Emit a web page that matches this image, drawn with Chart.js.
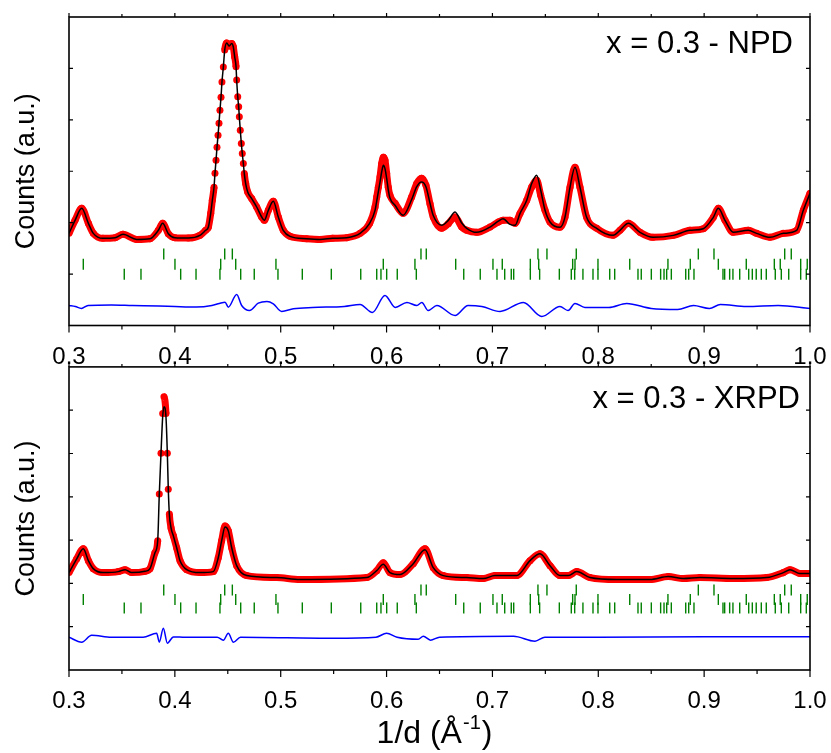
<!DOCTYPE html>
<html>
<head>
  <meta charset="utf-8">
  <title>x = 0.3 - NPD / XRPD</title>
  <script src="https://cdn.jsdelivr.net/npm/chart.js"></script>
  <style>
    body { margin: 0; background: #fff; }
    #wrap { position: relative; width: 831px; height: 753px; }
    canvas { position: absolute; left: 0; }
  </style>
</head>
<body>
<div id="wrap">
  <canvas id="xrpdChart" width="831" height="393" style="top:360px"></canvas>
  <canvas id="npdChart" width="831" height="380" style="top:0"></canvas>
</div>

<script>
  // posiciones de Bragg (1/d) de las tres fases, iguales en los dos paneles
  const fase1 = [0.3895, 0.4471, 0.4543, 0.6325, 0.6375, 0.7430, 0.7515, 0.7792, 0.8945, 0.9093, 0.9761, 0.9823];
  const fase2 = [0.3135, 0.4001, 0.4433, 0.4575, 0.4955, 0.5969, 0.6268, 0.6653, 0.7005, 0.7093, 0.7358, 0.7437,
    0.7758, 0.7780, 0.7997, 0.8297, 0.8658, 0.8869, 0.9134, 0.9398, 0.9663, 0.9719, 0.9912, 0.9974];
  const fase3 = [0.3522, 0.3680, 0.4055, 0.4200, 0.4426, 0.4622, 0.4750, 0.4974, 0.5204, 0.5478, 0.5756, 0.5907,
    0.5947, 0.6001, 0.6101, 0.6281, 0.6729, 0.6885, 0.7043, 0.7116, 0.7178, 0.7201, 0.7358, 0.7446, 0.7632, 0.7745,
    0.7777, 0.7855, 0.7950, 0.7997, 0.8108, 0.8155, 0.8375, 0.8406, 0.8501, 0.8589, 0.8621, 0.8646, 0.8690, 0.8826,
    0.8854, 0.8904, 0.9178, 0.9194, 0.9241, 0.9272, 0.9336, 0.9421, 0.9455, 0.9492, 0.9540, 0.9587, 0.9672, 0.9729,
    0.9799, 0.9912, 0.9965];

  // NPD: observado y calculado
  const npdX = [0.300, 0.3057, 0.312, 0.3183, 0.323, 0.332, 0.3435, 0.351, 0.364, 0.3765, 0.3844, 0.3885, 0.3938,
    0.4001, 0.4127, 0.4237, 0.4291, 0.4316, 0.4339, 0.4354, 0.4370, 0.4379, 0.4389, 0.4398, 0.4408, 0.4417, 0.4426,
    0.4436, 0.4445, 0.4458, 0.4471, 0.4490, 0.4514, 0.4537, 0.4552, 0.4565, 0.4578, 0.4584, 0.4594, 0.4603, 0.4609,
    0.4618, 0.4628, 0.4637, 0.4647, 0.4656, 0.4669, 0.4688, 0.4726, 0.4773, 0.482, 0.4845, 0.4883, 0.493, 0.4977,
    0.5024, 0.5088, 0.5245, 0.537, 0.549, 0.5623, 0.575, 0.584, 0.5891, 0.5907, 0.5922, 0.5938, 0.5954, 0.597,
    0.5985, 0.6001, 0.6016, 0.6032, 0.608, 0.6157, 0.6237, 0.6285, 0.633, 0.6372, 0.641, 0.6441, 0.652, 0.6583,
    0.6647, 0.671, 0.6757, 0.685, 0.6977, 0.7056, 0.710, 0.7166, 0.7213, 0.726, 0.7324, 0.7371, 0.7418, 0.7456,
    0.7497, 0.7544, 0.7638, 0.7685, 0.7733, 0.778, 0.7827, 0.789, 0.7985, 0.814, 0.8205, 0.8284, 0.8394, 0.8517,
    0.8709, 0.8866, 0.8992, 0.9087, 0.9134, 0.9197, 0.9275, 0.9417, 0.9496, 0.9622, 0.9748, 0.9874, 0.9937, 1.0];
  const npdObs = [1792, 2045, 2279, 1987, 1792, 1695, 1708, 1773, 1675, 1688, 1851, 1987, 1786,
    1708, 1701, 1753, 1851, 1909, 2182, 2435, 2688, 2961, 3214, 3467, 3701, 3935, 4188,
    4441, 4734, 5026, 5357, 5494, 5435, 5487, 5422, 5227, 5032, 4773, 4448, 4253, 4058,
    3799, 3539, 3345, 3150, 2955, 2760, 2597, 2468, 2305, 2110, 2045, 2240, 2415, 2110,
    1851, 1734, 1688, 1675, 1695, 1708, 1792, 1987, 2305, 2500, 2688, 2889, 3150, 3273,
    3214, 2955, 2688, 2532, 2377, 2182, 2500, 2760, 2864, 2727, 2370, 2110, 1890, 1981,
    2110, 1915, 1851, 1812, 1915, 2012, 2045, 2045, 1987, 2176, 2435, 2694, 2825, 2532,
    2240, 2012, 1909, 2104, 2688, 3078, 2688, 2104, 1890, 1753, 1851, 1987, 1812, 1714,
    1753, 1851, 1883, 2104, 2279, 2045, 1812, 1851, 1792, 1714, 1792, 1851, 2240, 2571];
  const npdCalc = [1792, 2045, 2279, 1987, 1792, 1695, 1708, 1773, 1675, 1688, 1851, 1987, 1786,
    1708, 1701, 1753, 1851, 1909, 2182, 2435, 2688, 2961, 3214, 3467, 3701, 3935, 4188,
    4441, 4734, 5026, 5357, 5494, 5435, 5487, 5422, 5227, 5032, 4773, 4448, 4253, 4058,
    3799, 3539, 3345, 3150, 2955, 2760, 2597, 2468, 2305, 2110, 2045, 2240, 2415, 2110,
    1851, 1734, 1688, 1675, 1695, 1708, 1792, 1987, 2240, 2420, 2600, 2790, 2990, 3117,
    3050, 2860, 2640, 2480, 2338, 2143, 2450, 2700, 2792, 2700, 2380, 2140, 1950, 2045,
    2207, 1993, 1890, 1812, 1915, 2030, 2078, 1967, 1948, 2176, 2435, 2760, 2922, 2630,
    2240, 2012, 1909, 2104, 2688, 3078, 2688, 2104, 1890, 1753, 1851, 1987, 1812, 1714,
    1753, 1851, 1883, 2104, 2279, 2045, 1812, 1851, 1792, 1714, 1792, 1851, 2240, 2571];
  const npdDifX = [0.300, 0.306, 0.3117, 0.318, 0.34, 0.36, 0.385, 0.40, 0.42, 0.435, 0.442, 0.4474, 0.4505, 0.4584,
    0.4631, 0.4705, 0.4788, 0.487, 0.493, 0.5009, 0.5119, 0.53, 0.56, 0.575, 0.5866, 0.5985, 0.6082, 0.6192, 0.6286,
    0.6333, 0.6393, 0.6475, 0.6647, 0.677, 0.69, 0.7072, 0.7293, 0.7466, 0.7638, 0.7714, 0.778, 0.7874, 0.81,
    0.8268, 0.85, 0.875, 0.89, 0.905, 0.9153, 0.94, 0.97, 1.0];
  const npdDif = [390, 370, 331, 390, 400, 390, 380, 370, 360, 390, 429, 454, 357, 604,
    390, 292, 435, 468, 422, 273, 325, 351, 370, 409, 253, 584, 351, 448, 390,
    448, 292, 390, 195, 390, 370, 273, 448, 175, 370, 292, 429, 351, 351,
    429, 331, 312, 390, 331, 409, 370, 390, 331];

  // XRPD: observado y calculado
  const xrpdX = [0.300, 0.3072, 0.3135, 0.3183, 0.3229, 0.3324, 0.3466, 0.353, 0.3592, 0.3718, 0.3765, 0.3812,
    0.3838, 0.3853, 0.3869, 0.3885, 0.3897, 0.3916, 0.3929, 0.3938, 0.3948, 0.3964, 0.3986, 0.4017, 0.4049, 0.4112,
    0.4237, 0.4363, 0.441, 0.4442, 0.4474, 0.4505, 0.4537, 0.4584, 0.4679, 0.4962, 0.5182, 0.5812, 0.5907, 0.5969,
    0.6032, 0.6127, 0.6252, 0.6363, 0.6441, 0.6536, 0.6757, 0.6914, 0.7024, 0.7229, 0.7355, 0.7449, 0.7544, 0.7638,
    0.7717, 0.7796, 0.7922, 0.8174, 0.8489, 0.8661, 0.8803, 0.896, 0.9275, 0.9591, 0.9748, 0.9811, 0.9905, 1.0];
  const xrpdObs = [2249, 2563, 2800, 2525, 2341, 2249, 2272, 2318, 2249, 2279, 2341, 2708,
    2984, 4062, 5003, 5921, 6311, 5921, 5003, 4177, 3603, 3282, 3098, 2823, 2525, 2318,
    2249, 2272, 2593, 2984, 3328, 3213, 2823, 2410, 2180, 2134, 2088, 2134, 2295, 2479,
    2249, 2203, 2456, 2800, 2364, 2180, 2134, 2111, 2180, 2180, 2525, 2685, 2410, 2180,
    2180, 2272, 2134, 2088, 2088, 2157, 2111, 2134, 2111, 2134, 2249, 2318, 2226, 2226];
  const xrpdCalc = [2249, 2563, 2800, 2525, 2341, 2249, 2272, 2318, 2249, 2279, 2341, 2708,
    2984, 4062, 5003, 5850, 6082, 5850, 5003, 4177, 3603, 3282, 3098, 2823, 2525, 2318,
    2249, 2272, 2593, 2984, 3300, 3213, 2823, 2410, 2180, 2134, 2088, 2134, 2295, 2440,
    2249, 2203, 2456, 2780, 2364, 2180, 2134, 2111, 2180, 2180, 2525, 2685, 2410, 2180,
    2180, 2272, 2134, 2088, 2088, 2157, 2111, 2134, 2111, 2134, 2249, 2318, 2226, 2226];
  const xrpdDifX = [0.300, 0.312, 0.3214, 0.34, 0.37, 0.3828, 0.3853, 0.3891, 0.3929, 0.3986, 0.41, 0.44, 0.4458,
    0.4505, 0.4553, 0.462, 0.55, 0.59, 0.6, 0.61, 0.6299, 0.6347, 0.6415, 0.65, 0.72, 0.7402, 0.7496, 0.8, 0.9, 1.0];
  const xrpdDif = [757, 643, 803, 757, 757, 849, 643, 964, 620, 765, 757, 757, 689,
    849, 643, 757, 734, 757, 849, 757, 711, 780, 689, 757, 780, 666, 757, 757, 769, 769];

  const FUENTE = "'Liberation Sans', Arial, Helvetica, sans-serif";

  function puntos(xs, ys) {
    return xs.map((x, i) => ({ x: x, y: ys[i] }));
  }

  // marcas de Bragg: un punto por reflexion a la altura de su fila
  function marcas(xs, nivel) {
    return {
      data: xs.map((x) => ({ x: x, y: nivel })),
      showLine: false,
      pointStyle: 'line',
      pointRotation: 90,
      pointRadius: 5.5,
      pointBorderColor: 'rgb(0,128,0)',
      pointBorderWidth: 1.4,
      order: 4,
    };
  }

  // tramos muy empinados del observado: se dejan solo los puntos
  function empinado(ctx) {
    const dx = Math.abs(ctx.p1.x - ctx.p0.x);
    const dy = Math.abs(ctx.p1.y - ctx.p0.y);
    return dy > 8 && dy > 9 * dx;
  }

  function marcoPlugin(cfg) {
    return {
      id: 'marco',
      afterDatasetsDraw(chart) {
        const { ctx, chartArea: a, scales } = chart;
        const sx = scales.x, sy = scales.y;
        ctx.save();
        ctx.strokeStyle = '#000';
        ctx.lineWidth = 1.6;
        ctx.strokeRect(a.left, a.top, a.right - a.left, a.bottom - a.top);
        ctx.lineWidth = 1.2;
        ctx.beginPath();
        for (let k = 0; k <= 14; k++) {
          const px = sx.getPixelForValue(0.3 + k * 0.05);
          const mayor = k % 2 === 0;
          ctx.moveTo(px, a.bottom);
          ctx.lineTo(px, a.bottom + (mayor ? 7 : 4));
          ctx.moveTo(px, a.top);
          ctx.lineTo(px, a.top - (mayor ? 4 : 3));
        }
        for (let v = 1000; v < sy.max; v += 1000) {
          const py = sy.getPixelForValue(v);
          ctx.moveTo(a.left, py);
          ctx.lineTo(a.left + 4, py);
          ctx.moveTo(a.right, py);
          ctx.lineTo(a.right - 4, py);
        }
        ctx.stroke();

        ctx.fillStyle = '#000';
        ctx.textAlign = 'right';
        ctx.textBaseline = 'alphabetic';
        ctx.font = '31px ' + FUENTE;
        ctx.fillText(cfg.rotulo, a.right - cfg.rotuloDx, a.top + cfg.rotuloDy);

        if (cfg.tituloX) {
          const t1 = '1/d (\u00C5', sup = '-1', t2 = ')';
          ctx.textAlign = 'left';
          ctx.font = '32px ' + FUENTE;
          const w1 = ctx.measureText(t1).width, w2 = ctx.measureText(t2).width;
          ctx.font = '20px ' + FUENTE;
          const ws = ctx.measureText(sup).width;
          const x0 = (a.left + a.right) / 2 - (w1 + ws + w2) / 2 - 6;
          const base = a.bottom + 73;
          ctx.font = '32px ' + FUENTE;
          ctx.fillText(t1, x0, base);
          ctx.font = '20px ' + FUENTE;
          ctx.fillText(sup, x0 + w1 + 1, base - 14);
          ctx.font = '32px ' + FUENTE;
          ctx.fillText(t2, x0 + w1 + ws + 2, base);
        }
        ctx.restore();
      },
    };
  }

  function crearPanel(id, cfg) {
    const ctx = document.getElementById(id).getContext('2d');
    return new Chart(ctx, {
      type: 'line',
      data: {
        datasets: [
          {
            label: 'Calculado',
            data: puntos(cfg.x, cfg.calc),
            borderColor: '#000',
            borderWidth: 1.5,
            pointRadius: 0,
            order: 1,
          },
          {
            label: 'Observado',
            data: puntos(cfg.x, cfg.obs),
            borderColor: '#ff0000',
            borderWidth: 7,
            pointRadius: 3.5,
            pointBackgroundColor: '#ff0000',
            pointBorderWidth: 0,
            segment: {
              borderColor: (c) => (empinado(c) ? 'rgba(255,0,0,0)' : '#ff0000'),
            },
            order: 2,
          },
          {
            label: 'Diferencia',
            data: puntos(cfg.difX, cfg.dif),
            borderColor: '#0000ff',
            borderWidth: 1.5,
            pointRadius: 0,
            order: 3,
          },
          marcas(fase1, cfg.filas[0]),
          marcas(fase2, cfg.filas[1]),
          marcas(fase3, cfg.filas[2]),
        ],
      },
      options: {
        responsive: false,
        animation: false,
        events: [],
        layout: { padding: { top: cfg.arriba, right: 21, left: 0, bottom: 0 } },
        elements: { line: { cubicInterpolationMode: 'monotone' } },
        plugins: { legend: { display: false }, tooltip: { enabled: false } },
        scales: {
          x: {
            type: 'linear',
            min: 0.3,
            max: 1.0,
            grid: { display: false },
            border: { display: false },
            ticks: {
              stepSize: 0.1,
              autoSkip: false,
              maxRotation: 0,
              padding: 9,
              color: '#000',
              font: { family: FUENTE, size: 24 },
              callback: (v) => v.toFixed(1),
            },
            afterFit: (s) => { s.height = cfg.altoX; s.paddingLeft = 0; s.paddingRight = 0; },
          },
          y: {
            min: 0,
            max: cfg.yMax,
            grid: { display: false },
            border: { display: false },
            ticks: { display: false, stepSize: 1000 },
            title: {
              display: true,
              text: 'Counts (a.u.)',
              color: '#000',
              font: { family: FUENTE, size: 27 },
              padding: { top: 10, bottom: 0 },
            },
            afterFit: (s) => { s.width = 69; s.paddingTop = 0; s.paddingBottom = 0; },
          },
        },
      },
      plugins: [marcoPlugin(cfg)],
    });
  }

  crearPanel('npdChart', {
    x: npdX, obs: npdObs, calc: npdCalc, difX: npdDifX, dif: npdDif,
    filas: [1389, 1192, 997], yMax: 6000, arriba: 17, altoX: 54.5,
    rotulo: 'x = 0.3 - NPD', rotuloDx: 17, rotuloDy: 36, tituloX: false,
  });

  crearPanel('xrpdChart', {
    x: xrpdX, obs: xrpdObs, calc: xrpdCalc, difX: xrpdDifX, dif: xrpdDif,
    filas: [1847, 1629, 1434], yMax: 7000, arriba: 6, altoX: 83,
    rotulo: 'x = 0.3 - XRPD', rotuloDx: 10, rotuloDy: 41, tituloX: true,
  });
</script>
</body>
</html>
